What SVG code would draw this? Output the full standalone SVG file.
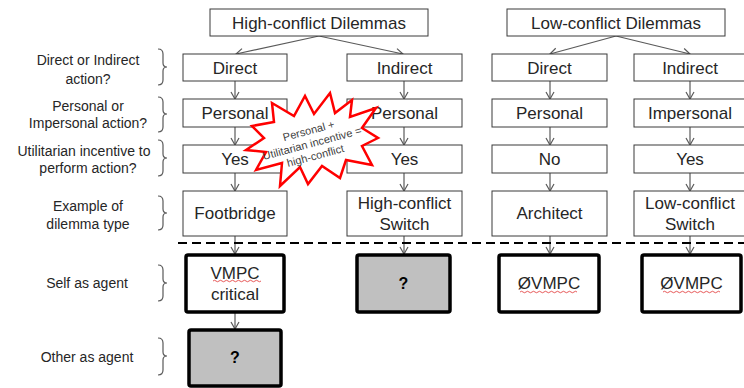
<svg xmlns="http://www.w3.org/2000/svg" width="744" height="388" viewBox="0 0 744 388">
<style>
.box{fill:#fff;stroke:#3a3a3a;stroke-width:1}
.thick{fill:#fff;stroke:#000;stroke-width:3.5}
.grey{fill:#c0c0c0;stroke:#000;stroke-width:3.5}
.t{font-family:"Liberation Sans",Arial,sans-serif;font-size:17px;fill:#262626;text-anchor:middle}
.lab{font-family:"Liberation Sans",Arial,sans-serif;font-size:14px;fill:#262626;text-anchor:middle}
.q{font-family:"Liberation Sans",Arial,sans-serif;font-size:16px;font-weight:bold;fill:#000;text-anchor:middle}
.arr{stroke:#5a5a5a;stroke-width:1.2;fill:none;marker-end:url(#ah)}
.brace{stroke:#595959;stroke-width:1.2;fill:none}
.sq{stroke:#e03030;stroke-width:0.8;fill:none}
.st{font-family:"Liberation Sans",Arial,sans-serif;font-size:11px;fill:#404040;text-anchor:middle}
</style>
<defs>
<marker id="ah" markerWidth="10" markerHeight="10" refX="8" refY="5" orient="auto" markerUnits="userSpaceOnUse">
<path d="M1,1 L8,5 L1,9" fill="none" stroke="#5a5a5a" stroke-width="1.2"/>
</marker>
</defs>

<g id="labels">
<text class="lab" x="88" y="65">Direct or Indirect</text>
<text class="lab" x="88" y="84">action?</text>
<text class="lab" x="88" y="111">Personal or</text>
<text class="lab" x="88" y="128">Impersonal action?</text>
<text class="lab" x="84" y="156">Utilitarian incentive to</text>
<text class="lab" x="88" y="173">perform action?</text>
<text class="lab" x="88" y="211">Example of</text>
<text class="lab" x="88" y="229">dilemma type</text>
<text class="lab" x="87" y="288">Self as agent</text>
<text class="lab" x="87" y="362">Other as agent</text>
</g>
<g id="braces">
<path class="brace" d="M158,49 Q163,49 163,54 L163,63 Q163,67 167,67 Q163,67 163,71 L163,80 Q163,85 158,85"/>
<path class="brace" d="M158,97 Q163,97 163,102 L163,110 Q163,114 167,114 Q163,114 163,118 L163,127 Q163,132 158,132"/>
<path class="brace" d="M158,140 Q163,140 163,145 L163,154 Q163,158 167,158 Q163,158 163,162 L163,171 Q163,176 158,176"/>
<path class="brace" d="M158,196 Q163,196 163,201 L163,209 Q163,213 167,213 Q163,213 163,217 L163,225 Q163,230 158,230"/>
<path class="brace" d="M158,265 Q163,265 163,270 L163,279 Q163,283 167,283 Q163,283 163,287 L163,296 Q163,301 158,301"/>
<path class="brace" d="M158,338 Q163,338 163,343 L163,352 Q163,356 167,356 Q163,356 163,360 L163,370 Q163,375 158,375"/>
</g>

<g id="connectors">
<line class="arr" x1="319" y1="36" x2="236" y2="54"/>
<line class="arr" x1="319" y1="36" x2="403" y2="54"/>
<line class="arr" x1="616" y1="36" x2="550" y2="54"/>
<line class="arr" x1="616" y1="36" x2="690" y2="54"/>
<line class="arr" x1="235" y1="81" x2="235" y2="99"/>
<line class="arr" x1="404" y1="81" x2="404" y2="99"/>
<line class="arr" x1="550" y1="81" x2="550" y2="99"/>
<line class="arr" x1="690" y1="81" x2="690" y2="99"/>
<line class="arr" x1="235" y1="127" x2="235" y2="145"/>
<line class="arr" x1="404" y1="127" x2="404" y2="145"/>
<line class="arr" x1="550" y1="127" x2="550" y2="145"/>
<line class="arr" x1="690" y1="127" x2="690" y2="145"/>
<line class="arr" x1="235" y1="173" x2="235" y2="191"/>
<line class="arr" x1="404" y1="173" x2="404" y2="191"/>
<line class="arr" x1="550" y1="173" x2="550" y2="191"/>
<line class="arr" x1="690" y1="173" x2="690" y2="191"/>
<line class="arr" x1="235" y1="236" x2="235" y2="254"/>
<line class="arr" x1="404" y1="236" x2="404" y2="254"/>
<line class="arr" x1="550" y1="236" x2="550" y2="254"/>
<line class="arr" x1="690" y1="236" x2="690" y2="254"/>
<line class="arr" x1="235" y1="312" x2="235" y2="329"/>
</g>

<line id="divider" x1="178" y1="243" x2="744" y2="243" stroke="#000" stroke-width="2" stroke-dasharray="9 5"/>

<g id="hc-header"><rect class="box" x="210" y="9" width="218" height="27"/><text class="t" x="319" y="28.5">High-conflict Dilemmas</text></g>
<g id="lc-header"><rect class="box" x="507" y="9" width="218" height="27"/><text class="t" x="616" y="28.5">Low-conflict Dilemmas</text></g>

<g id="hc-direct"><rect class="box" x="183" y="54" width="104" height="27"/><text class="t" x="235" y="73.5">Direct</text></g>
<g id="hc-indirect"><rect class="box" x="347" y="54" width="115" height="27"/><text class="t" x="404.5" y="73.5">Indirect</text></g>
<g id="lc-direct"><rect class="box" x="492" y="54" width="115" height="27"/><text class="t" x="549.5" y="73.5">Direct</text></g>
<g id="lc-indirect"><rect class="box" x="634" y="54" width="112" height="27"/><text class="t" x="690" y="73.5">Indirect</text></g>

<g id="hc-direct-personal"><rect class="box" x="183" y="99" width="104" height="28"/><text class="t" x="235" y="119">Personal</text></g>
<g id="hc-indirect-personal"><rect class="box" x="347" y="99" width="115" height="28"/><text class="t" x="404.5" y="119">Personal</text></g>
<g id="lc-direct-personal"><rect class="box" x="492" y="99" width="115" height="28"/><text class="t" x="549.5" y="119">Personal</text></g>
<g id="lc-indirect-impersonal"><rect class="box" x="634" y="99" width="112" height="28"/><text class="t" x="690" y="119">Impersonal</text></g>

<g id="hc-direct-yes"><rect class="box" x="183" y="145" width="104" height="28"/><text class="t" x="235" y="165">Yes</text></g>
<g id="hc-indirect-yes"><rect class="box" x="347" y="145" width="115" height="28"/><text class="t" x="404.5" y="165">Yes</text></g>
<g id="lc-direct-no"><rect class="box" x="492" y="145" width="115" height="28"/><text class="t" x="549.5" y="165">No</text></g>
<g id="lc-indirect-yes"><rect class="box" x="634" y="145" width="112" height="28"/><text class="t" x="690" y="165">Yes</text></g>

<g id="footbridge"><rect class="box" x="183" y="191" width="104" height="45"/><text class="t" x="235" y="219">Footbridge</text></g>
<g id="hc-switch"><rect class="box" x="347" y="191" width="115" height="45"/><text class="t" x="404.5" y="209">High-conflict</text><text class="t" x="404.5" y="230">Switch</text></g>
<g id="architect"><rect class="box" x="492" y="191" width="115" height="45"/><text class="t" x="549.5" y="219">Architect</text></g>
<g id="lc-switch"><rect class="box" x="634" y="191" width="112" height="45"/><text class="t" x="690" y="209">Low-conflict</text><text class="t" x="690" y="230">Switch</text></g>

<g id="vmpc-critical"><rect class="thick" x="186" y="255" width="98" height="57" rx="2"/><text class="t" x="235" y="279">VMPC</text><text class="t" x="235" y="300">critical</text>
<path class="sq" d="M213,281 q1.5,-1.5 3,0 t3,0 t3,0 t3,0 t3,0 t3,0 t3,0 t3,0 t3,0 t3,0 t3,0 t3,0 t3,0 t3,0 t3,0 t3,0"/></g>
<g id="hc-indirect-self"><rect class="grey" x="357" y="255" width="93" height="57" rx="2"/><text class="q" x="403.5" y="289">?</text></g>
<g id="lc-direct-self"><rect class="thick" x="499" y="255" width="100" height="57" rx="2"/><text class="t" x="549" y="289">ØVMPC</text>
<path class="sq" d="M520,292 q1.5,-1.5 3,0 t3,0 t3,0 t3,0 t3,0 t3,0 t3,0 t3,0 t3,0 t3,0 t3,0 t3,0 t3,0 t3,0 t3,0 t3,0 t3,0 t3,0 t3,0"/></g>
<g id="lc-indirect-self"><rect class="thick" x="642" y="255" width="99" height="57" rx="2"/><text class="t" x="691.5" y="289">ØVMPC</text>
<path class="sq" d="M663,292 q1.5,-1.5 3,0 t3,0 t3,0 t3,0 t3,0 t3,0 t3,0 t3,0 t3,0 t3,0 t3,0 t3,0 t3,0 t3,0 t3,0 t3,0 t3,0 t3,0 t3,0"/></g>
<g id="hc-direct-other"><rect class="grey" x="189" y="330" width="92" height="56" rx="2"/><text class="q" x="235" y="363">?</text></g>

<g id="starburst">
<polygon points="330,93 335,113 352,100 350,117 376,108 362,128 378,138 362,146 372,165 346,160 340,178 322,166 308,184 300,167 280,186 282,163 256,170 266,152 246,150 264,138 252,126 274,122 272,103 294,116 305,96 314,114" fill="#fff" stroke="#ff0000" stroke-width="2.5" stroke-linejoin="miter"/>
<g transform="rotate(-15 312 143)">
<text class="st" x="312" y="134">Personal +</text>
<text class="st" x="312" y="147">Utilitarian incentive =</text>
<text class="st" x="312" y="160">high-conflict</text>
</g>
</g>
</svg>
